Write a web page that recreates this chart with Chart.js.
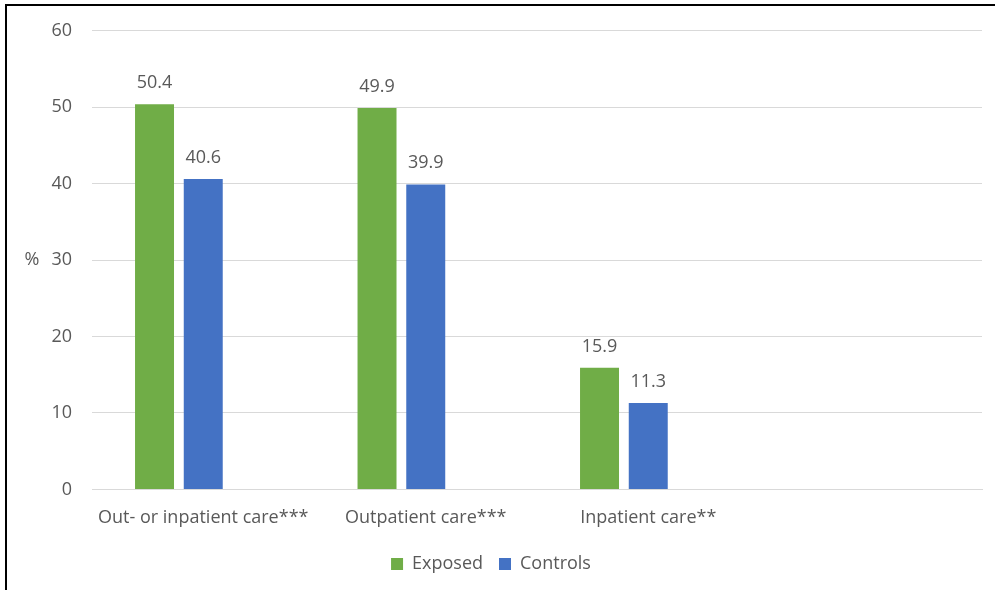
<!DOCTYPE html>
<html>
<head>
<meta charset="utf-8">
<script src="https://cdn.jsdelivr.net/npm/chart.js@4.4.1/dist/chart.umd.min.js"></script>
<style>
  html, body { margin: 0; padding: 0; background: #fff; }
  #wrap { position: relative; width: 995px; height: 590px; }
  #frame { position: absolute; left: 5px; top: 4px; right: 0; bottom: 0;
           border-top: 2px solid #000; border-left: 2px solid #000; pointer-events: none; }
  canvas { position: absolute; left: 0; top: 0; }
</style>
</head>
<body>
<div id="wrap">
  <canvas id="grafico" width="995" height="590"></canvas>
  <div id="frame"></div>
</div>
<script>
// dados do gráfico
const categorias = ['Out- or inpatient care***', 'Outpatient care***', 'Inpatient care**', ''];
const exposed = [50.4, 49.9, 15.9, null];
const controls = [40.6, 39.9, 11.3, null];
const vazio = [null, null, null, null]; // série vazia (ocupa o 3º espaço do grupo, como no original)
const yTicks = [0, 10, 20, 30, 40, 50, 60];

const FONTE = "'Open Sans', sans-serif";
const TAM = 18;
const CINZA_TXT = '#595959';
const VERDE = '#70AD47';
const AZUL = '#4472C4';
const GRADE = '#D9D9D9';

// rótulos de valor acima das barras + "%" do eixo y
const rotulosPlugin = {
  id: 'rotulos',
  afterDatasetsDraw: function (chart) {
    const ctx = chart.ctx;
    ctx.save();
    ctx.font = TAM + 'px ' + FONTE;
    ctx.fillStyle = CINZA_TXT;
    ctx.textAlign = 'center';
    ctx.textBaseline = 'alphabetic';
    chart.data.datasets.forEach(function (ds, di) {
      const meta = chart.getDatasetMeta(di);
      meta.data.forEach(function (bar, i) {
        const v = ds.data[i];
        if (v === null || v === undefined) return;
        ctx.fillText(v.toFixed(1), bar.x, bar.y - 16);
      });
    });
    const y = chart.scales.y.getPixelForValue(30);
    ctx.textBaseline = 'middle';
    ctx.fillText('%', 32, y);
    ctx.restore();
  }
};

new Chart(document.getElementById('grafico'), {
  type: 'bar',
  data: {
    labels: categorias,
    datasets: [
      { label: 'Exposed', data: exposed, backgroundColor: VERDE },
      { label: 'Controls', data: controls, backgroundColor: AZUL },
      { label: '', data: vazio, backgroundColor: 'rgba(0,0,0,0)' }
    ]
  },
  options: {
    responsive: false,
    animation: false,
    datasets: { bar: { categoryPercentage: 0.657, barPercentage: 0.8 } },
    layout: { padding: { left: 0, right: 13, top: 20, bottom: 7 } },
    plugins: {
      tooltip: { enabled: false },
      legend: {
        position: 'bottom',
        labels: {
          color: CINZA_TXT,
          font: { family: FONTE, size: TAM },
          boxWidth: 12, boxHeight: 12, padding: 16,
          filter: function (item) { return item.text !== ''; }
        }
      }
    },
    scales: {
      x: {
        grid: { display: false },
        border: { display: true, color: GRADE, width: 1 },
        ticks: { color: CINZA_TXT, font: { family: FONTE, size: TAM }, padding: 10, maxRotation: 0, autoSkip: false }
      },
      y: {
        min: 0, max: 60,
        afterBuildTicks: function (s) { s.ticks = yTicks.map(function (v) { return { value: v }; }); },
        afterFit: function (s) { s.width = 92; },
        grid: { color: GRADE, lineWidth: 1, drawTicks: false },
        border: { display: false },
        ticks: { color: CINZA_TXT, font: { family: FONTE, size: TAM }, padding: 20 }
      }
    }
  },
  plugins: [rotulosPlugin]
});
</script>
</body>
</html>
